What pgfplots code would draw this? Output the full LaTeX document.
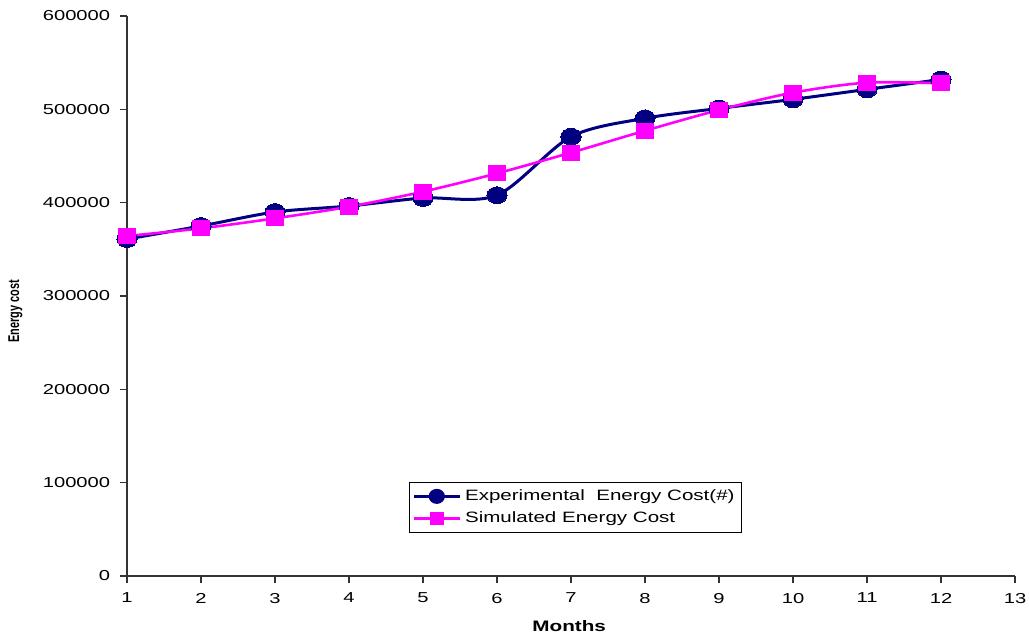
\documentclass[border=0pt]{standalone}
\usepackage{pgfplots}
\pgfplotsset{compat=1.18}
\usepackage{fontspec}
\setmainfont{Liberation Sans}
\definecolor{navyc}{RGB}{0,0,128}
\definecolor{magc}{RGB}{255,0,255}
\begin{document}
\begin{tikzpicture}
\path[use as bounding box] (-63.5pt,-31.5pt) rectangle (451pt,288pt);
\begin{axis}[
  at={(0pt,0pt)}, anchor=south west,
  scale only axis, width=444pt, height=280pt,
  xmin=1, xmax=13, ymin=0, ymax=600000,
  axis lines*=left,
  axis line style={black!80, line width=0.6pt},
  xtick={1,...,13},
  ytick={0,100000,200000,300000,400000,500000,600000},
  scaled y ticks=false,
  yticklabel style={/pgf/number format/fixed,/pgf/number format/1000 sep={}},
  /pgf/number format/assume math mode=true,
  tick style={black!80, line width=0.6pt},
  tick align=outside,
  major tick length=3.5pt,
  ticklabel style={font=\fontsize{7.2}{8.6}\selectfont, xscale=1.4},
  xticklabel style={yshift=-1.5pt},
  xlabel={\textbf{Months}},
  ylabel={\scalebox{0.7}[1]{\textbf{Energy cost}}},
  xlabel style={font=\fontsize{7.6}{9}\selectfont, xscale=1.36, at={(axis description cs:0.498,-0.0893)}, anchor=center},
  ylabel style={font=\fontsize{7.8}{9}\selectfont, at={(ticklabel cs:0.473)}},
  ylabel shift=2pt,
  clip=false,
  legend style={at={(0.3176,0.168)}, anchor=north west, draw=black, line width=0.5pt,
    font=\fontsize{7.5}{9}\selectfont, inner sep=1.5pt, row sep=0pt},
  legend cell align=left,
  legend image code/.code={\draw[mark repeat=2,mark phase=2] plot coordinates {(0cm,0cm) (0.4cm,0cm) (0.8cm,0cm)};},
]
\addplot[navyc, line width=1.5pt, smooth, tension=0.5, mark=*, mark size=4.2pt, mark options={fill=navyc, draw=navyc, line width=0pt, xscale=1.2},
  legend image post style={mark size=3pt, mark options={xscale=1.1}}]
coordinates {(1,361000) (2,375000) (3,390000) (4,396400) (5,405000) (6,408000)
 (7,470700) (8,490400) (9,501000) (10,510700) (11,521400) (12,532000)};
\addlegendentry{\scalebox{1.37}[1]{Experimental\ \ Energy Cost(\#)}}
\addplot[magc, line width=1.3pt, smooth, tension=0.5, mark=square*, mark size=3.7pt, mark options={fill=magc, draw=magc, line width=0pt, xscale=1.2},
  legend image post style={mark size=2.5pt, mark options={xscale=1.1}}]
coordinates {(1,364300) (2,372500) (3,383200) (4,395700) (5,411800) (6,431400)
 (7,453600) (8,477100) (9,499300) (10,517900) (11,528600) (12,527900)};
\addlegendentry{\scalebox{1.37}[1]{Simulated Energy Cost}}
\end{axis}
\end{tikzpicture}
\end{document}
